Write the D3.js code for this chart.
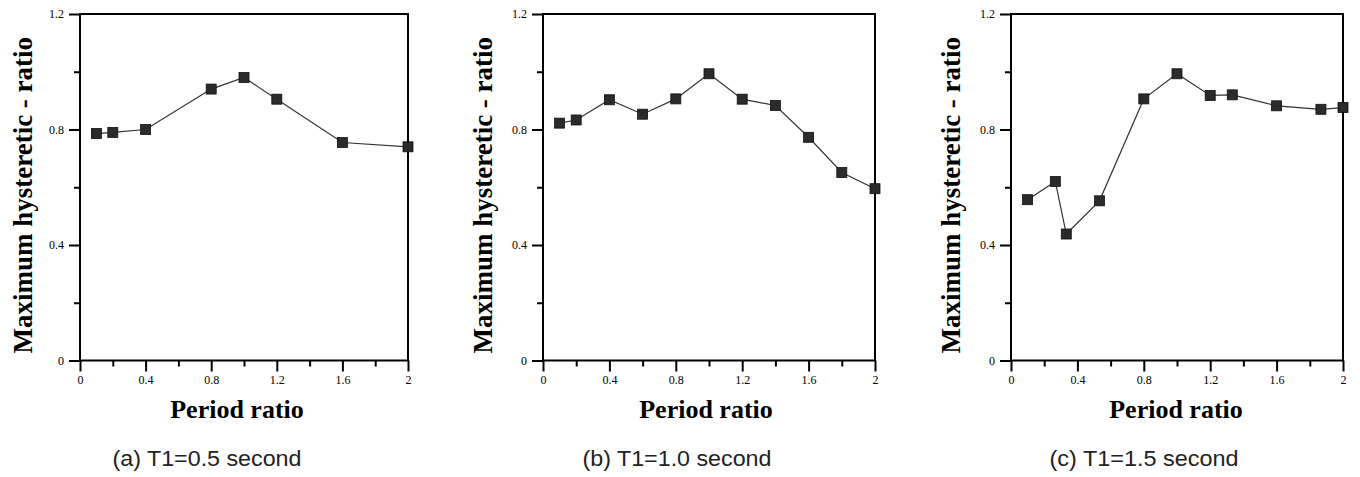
<!DOCTYPE html>
<html>
<head>
<meta charset="utf-8">
<script src="https://cdn.jsdelivr.net/npm/d3@7"></script>
<style>
  body { margin: 0; background: #fff; }
  svg { display: block; }
</style>
</head>
<body>
<svg width="1360" height="477"></svg>
<script>
const svg = d3.select("svg");

// data
const periodA = [0.1, 0.2, 0.4, 0.8, 1.0, 1.2, 1.6, 2.0];
const ratioA = [0.786, 0.79, 0.8, 0.94, 0.98, 0.905, 0.755, 0.74];

const periodB = [0.1, 0.2, 0.4, 0.6, 0.8, 1.0, 1.2, 1.4, 1.6, 1.8, 2.0];
const ratioB = [0.822, 0.833, 0.903, 0.853, 0.906, 0.993, 0.905, 0.883, 0.773, 0.651, 0.595];

const periodC = [0.1, 0.267, 0.333, 0.533, 0.8, 1.0, 1.2, 1.333, 1.6, 1.867, 2.0];
const ratioC = [0.557, 0.62, 0.438, 0.553, 0.906, 0.993, 0.918, 0.92, 0.882, 0.87, 0.876];

const captions = ["(a)  T1=0.5  second", "(b)  T1=1.0  second", "(c)  T1=1.5  second"];
const xTicks = [0, 0.4, 0.8, 1.2, 1.6, 2];
const xMinor = [0.2, 0.6, 1.0, 1.4, 1.8];
const yTicks = [0, 0.4, 0.8, 1.2];
const yMinor = [0.2, 0.6, 1.0];

const panels = [
  { x: periodA, y: ratioA, left: 80, right: 408, ylab: 32, xlab: 237, cap: 207 },
  { x: periodB, y: ratioB, left: 543, right: 875, ylab: 492, xlab: 706, cap: 677 },
  { x: periodC, y: ratioC, left: 1011, right: 1343, ylab: 960, xlab: 1176, cap: 1144 },
];

const plotTop = 14;
const plotBottom = 360.5;
const serif = "'Liberation Serif', 'Times New Roman', serif";

const fmt = (d) => (d === 0 || d === 2 ? String(d) : d3.format(".1f")(d));

panels.forEach((p, i) => {
  const xScale = d3.scaleLinear().domain([0, 2]).range([p.left, p.right]);
  const yScale = d3.scaleLinear().domain([0, 1.2]).range([plotBottom, plotTop]);

  const g = svg.append("g");

  // frame
  g.append("rect")
    .attr("x", p.left)
    .attr("y", plotTop)
    .attr("width", p.right - p.left)
    .attr("height", plotBottom - plotTop)
    .attr("fill", "none")
    .attr("stroke", "#000")
    .attr("stroke-width", 2);

  g.append("g")
    .attr("transform", `translate(0,${plotBottom})`)
    .call(d3.axisBottom(xScale).tickValues(xTicks).tickSize(11).tickPadding(4).tickFormat(fmt));
  g.append("g")
    .attr("transform", `translate(0,${plotBottom})`)
    .call(d3.axisBottom(xScale).tickValues(xMinor).tickSize(6).tickFormat(""));

  g.append("g")
    .attr("transform", `translate(${p.left},0)`)
    .call(d3.axisLeft(yScale).tickValues(yTicks).tickSize(11).tickPadding(5).tickFormat(fmt));
  g.append("g")
    .attr("transform", `translate(${p.left},0)`)
    .call(d3.axisLeft(yScale).tickValues(yMinor).tickSize(6).tickFormat(""));

  g.selectAll(".domain").remove();
  g.selectAll(".tick line").attr("stroke", "#000").attr("stroke-width", 2);
  g.selectAll(".tick text")
    .attr("font-family", serif)
    .attr("font-size", 12)
    .attr("fill", "#000");

  const pts = p.x.map((v, k) => [v, p.y[k]]);

  g.append("path")
    .attr("d", d3.line().x((d) => xScale(d[0])).y((d) => yScale(d[1]))(pts))
    .attr("fill", "none")
    .attr("stroke", "#333")
    .attr("stroke-width", 1.2);

  const s = 10;
  g.selectAll("rect.mark")
    .data(pts)
    .enter()
    .append("rect")
    .attr("class", "mark")
    .attr("x", (d) => xScale(d[0]) - s / 2)
    .attr("y", (d) => yScale(d[1]) - s / 2)
    .attr("width", s)
    .attr("height", s)
    .attr("fill", "#2b2b2b")
    .attr("stroke", "#111")
    .attr("stroke-width", 0.8);

  // axis titles
  g.append("text")
    .attr("transform", `translate(${p.ylab},${(plotTop + plotBottom) / 2 + 8}) rotate(-90)`)
    .attr("text-anchor", "middle")
    .attr("font-family", serif)
    .attr("font-weight", "bold")
    .attr("font-size", 27)
    .text("Maximum hysteretic - ratio");

  g.append("text")
    .attr("x", p.xlab)
    .attr("y", 418)
    .attr("text-anchor", "middle")
    .attr("font-family", serif)
    .attr("font-weight", "bold")
    .attr("font-size", 26)
    .text("Period ratio");

  g.append("text")
    .attr("x", p.cap)
    .attr("y", 466)
    .attr("text-anchor", "middle")
    .attr("font-family", "'Liberation Sans', Arial, sans-serif")
    .attr("font-size", 22)
    .attr("fill", "#222")
    .attr("textLength", 189)
    .attr("lengthAdjust", "spacingAndGlyphs")
    .text(captions[i]);
});
</script>
</body>
</html>
